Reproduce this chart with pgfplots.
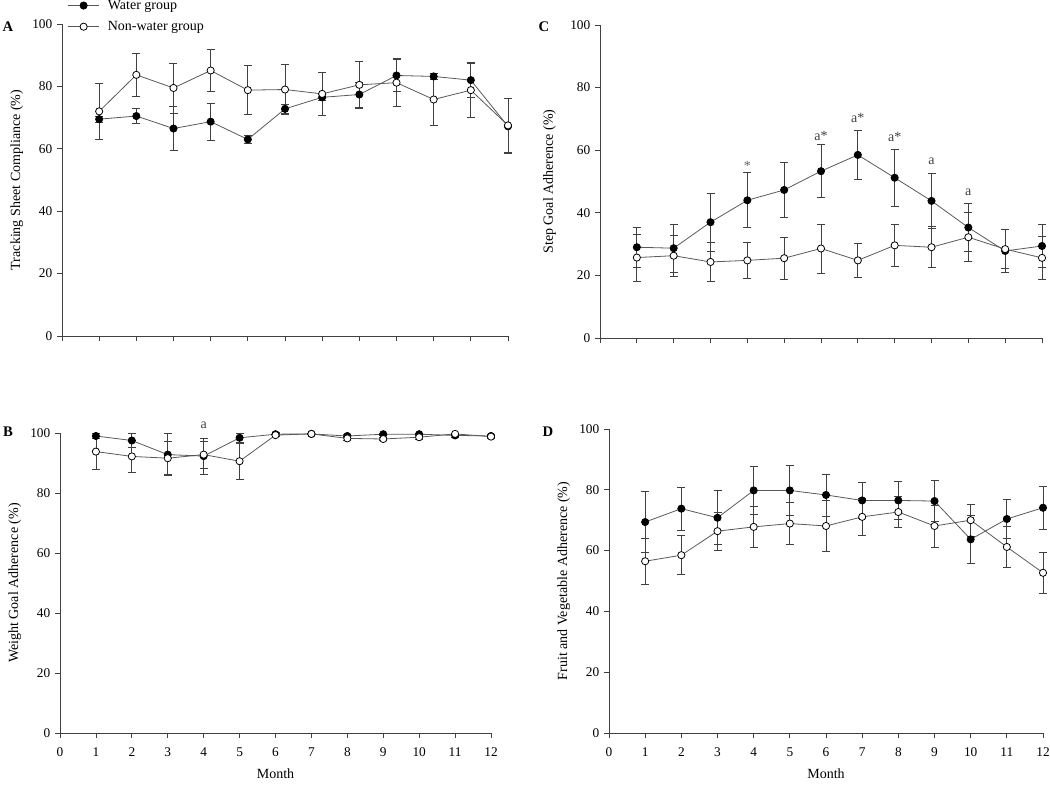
\documentclass[border=0pt]{standalone}
\usepackage{fontspec}
\setmainfont{Liberation Serif}
\usepackage{pgfplots}
\pgfplotsset{compat=1.18}

\newcommand\tickfont{\fontsize{10}{12}\selectfont}
\newcommand\labfont{\fontsize{10.5}{12}\selectfont}

\pgfplotsset{
  panel/.style={
    scale only axis, anchor=south west,
    axis lines*=left,
    axis line style={black!75, line width=0.6pt},
    tick align=outside,
    tick style={black!75, line width=0.6pt},
    major tick length=3.75pt,
    xmin=0, xmax=12, ymin=0, ymax=100,
    xtick={0,...,12}, ytick={0,20,...,100},
    clip=false,
    /pgf/number format/assume math mode=true,
    tick label style={font=\tickfont},
    xticklabel style={yshift=-4pt},
    label style={font=\labfont},
    xlabel style={yshift=-2pt},
  },
  water/.style={black!65, line width=0.6pt, mark=*, mark size=2.7pt,
    mark options={fill=black, draw=black}},
  nonwater/.style={black!65, line width=0.6pt, mark=*, mark size=2.7pt,
    mark options={fill=white, draw=black}},
  errs/.style={error bars/.cd, y dir=both, y explicit,
    error bar style={black!75, line width=0.6pt},
    error mark options={rotate=90, mark size=3pt, black!75, line width=0.6pt}},
}

\begin{document}
\begin{tikzpicture}
\useasboundingbox (0,0) rectangle (787.5pt,-588.75pt);

% A
\begin{axis}[panel, at={(46.5pt,-252pt)}, width=334.5pt, height=234pt,
  xticklabels={}, ylabel={Tracking Sheet Compliance (\%)},
  legend style={at={(0.004,1.095)}, anchor=north west, draw=none, fill=none,
    font=\labfont, row sep=3.5pt, column sep=4.5pt},
  legend cell align=left,
  legend image code/.code={\draw[mark repeat=2,mark phase=2] plot coordinates {(0cm,0cm) (0.4cm,0cm) (0.8cm,0cm)};}]
\addplot[water, errs] coordinates {
 (1,69.5) +- (0,1) (2,70.5) +- (0,2.3) (3,66.5) +- (0,7) (4,68.7) +- (0,6)
 (5,63) +- (0,1.2) (6,72.8) +- (0,1.5) (7,76.5) +- (0,1) (8,77.4) +- (0,4)
 (9,83.5) +- (0,5) (10,83.2) +- (0,1) (11,82) +- (0,5.4) (12,67.2) +- (0,8.8)};
\addplot[nonwater, errs] coordinates {
 (1,72) +- (0,9) (2,83.7) +- (0,7) (3,79.5) +- (0,8) (4,85.1) +- (0,6.6)
 (5,78.8) +- (0,7.8) (6,79) +- (0,8) (7,77.6) +- (0,6.8) (8,80.5) +- (0,7.6)
 (9,81.2) +- (0,7.7) (10,75.8) +- (0,8.3) (11,78.8) +- (0,8.8) (12,67.5) +- (0,8.8)};
\legend{Water group, Non-water group}
\end{axis}

% C
\begin{axis}[panel, at={(450pt,-253.5pt)}, width=331.5pt, height=234.75pt,
  xticklabels={}, ylabel={Step Goal Adherence (\%)}, ylabel shift=4pt]
\addplot[water, errs] coordinates {
 (1,29) +- (0,6.3) (2,28.7) +- (0,7.7) (3,37) +- (0,9.2) (4,44) +- (0,8.8)
 (5,47.3) +- (0,8.7) (6,53.3) +- (0,8.5) (7,58.5) +- (0,7.8) (8,51.2) +- (0,9.2)
 (9,43.8) +- (0,8.8) (10,35.3) +- (0,7.7) (11,27.8) +- (0,6.8) (12,29.4) +- (0,7)};
\addplot[nonwater, errs] coordinates {
 (1,25.7) +- (0,7.5) (2,26.3) +- (0,6.5) (3,24.3) +- (0,6.1) (4,24.8) +- (0,5.7)
 (5,25.5) +- (0,6.7) (6,28.6) +- (0,7.8) (7,24.8) +- (0,5.5) (8,29.6) +- (0,6.6)
 (9,29) +- (0,6.5) (10,32.2) +- (0,7.8) (11,28.4) +- (0,6.2) (12,25.6) +- (0,6.9)};
\node[font=\labfont, text=black!60] at (axis cs:4,55) {*};
\node[font=\labfont, text=black!75] at (axis cs:6,64.5) {a*};
\node[font=\labfont, text=black!75] at (axis cs:7,70.3) {a*};
\node[font=\labfont, text=black!75] at (axis cs:8,64.3) {a*};
\node[font=\labfont, text=black!75] at (axis cs:9,56.5) {a};
\node[font=\labfont, text=black!75] at (axis cs:10,46.5) {a};
\end{axis}

% B
\begin{axis}[panel, at={(45pt,-549.75pt)}, width=323.25pt, height=225pt,
  xlabel={Month}, ylabel={Weight Goal Adherence (\%)}]
\addplot[water, errs] coordinates {
 (1,99) +- (0,0.8) (2,97.5) +- (0,2.3) (3,92.8) +- (0,7) (4,92.3) +- (0,6)
 (5,98.4) +- (0,1.5) (6,99.6) +- (0,0.5) (7,99.7) +- (0,0.3) (8,99) +- (0,0.5)
 (9,99.6) +- (0,0.4) (10,99.6) +- (0,0.4) (11,99.2) +- (0,0.5) (12,99) +- (0,0.5)};
\addplot[nonwater, errs] coordinates {
 (1,93.8) +- (0,6) (2,92.2) +- (0,5.2) (3,91.6) +- (0,5.5) (4,92.8) +- (0,4.5)
 (5,90.6) +- (0,6) (6,99.3) +- (0,0.5) (7,99.7) +- (0,0.3) (8,98.2) +- (0,0.8)
 (9,98) +- (0,0.6) (10,98.6) +- (0,0.6) (11,99.7) +- (0,0.3) (12,98.8) +- (0,0.5)};
\node[font=\labfont, text=black!75] at (axis cs:4,102.7) {a};
\end{axis}

% D
\begin{axis}[panel, at={(456.75pt,-549.75pt)}, width=325.5pt, height=228pt,
  xlabel={Month}, ylabel={Fruit and Vegetable Adherence (\%)}]
\addplot[water, errs] coordinates {
 (1,69.4) +- (0,10) (2,73.8) +- (0,7) (3,70.8) +- (0,8.9) (4,79.8) +- (0,7.9)
 (5,79.8) +- (0,8.1) (6,78.3) +- (0,6.9) (7,76.5) +- (0,6) (8,76.5) +- (0,6.3)
 (9,76.3) +- (0,6.8) (10,63.7) +- (0,7.8) (11,70.4) +- (0,6.3) (12,74.1) +- (0,7.1)};
\addplot[nonwater, errs] coordinates {
 (1,56.5) +- (0,7.6) (2,58.5) +- (0,6.4) (3,66.4) +- (0,6.2) (4,67.8) +- (0,6.7)
 (5,68.9) +- (0,6.9) (6,68.1) +- (0,8.3) (7,71.1) +- (0,6.1) (8,72.7) +- (0,5)
 (9,68.1) +- (0,6.9) (10,70) +- (0,5.3) (11,61.2) +- (0,6.8) (12,52.7) +- (0,6.7)};
\end{axis}

\node[font=\fontsize{11}{12}\selectfont\bfseries] at (6pt,-20.25pt) {A};
\node[font=\fontsize{11}{12}\selectfont\bfseries] at (408pt,-20.25pt) {C};
\node[font=\fontsize{11}{12}\selectfont\bfseries] at (6pt,-324pt) {B};
\node[font=\fontsize{11}{12}\selectfont\bfseries] at (411pt,-324pt) {D};
\end{tikzpicture}
\end{document}
